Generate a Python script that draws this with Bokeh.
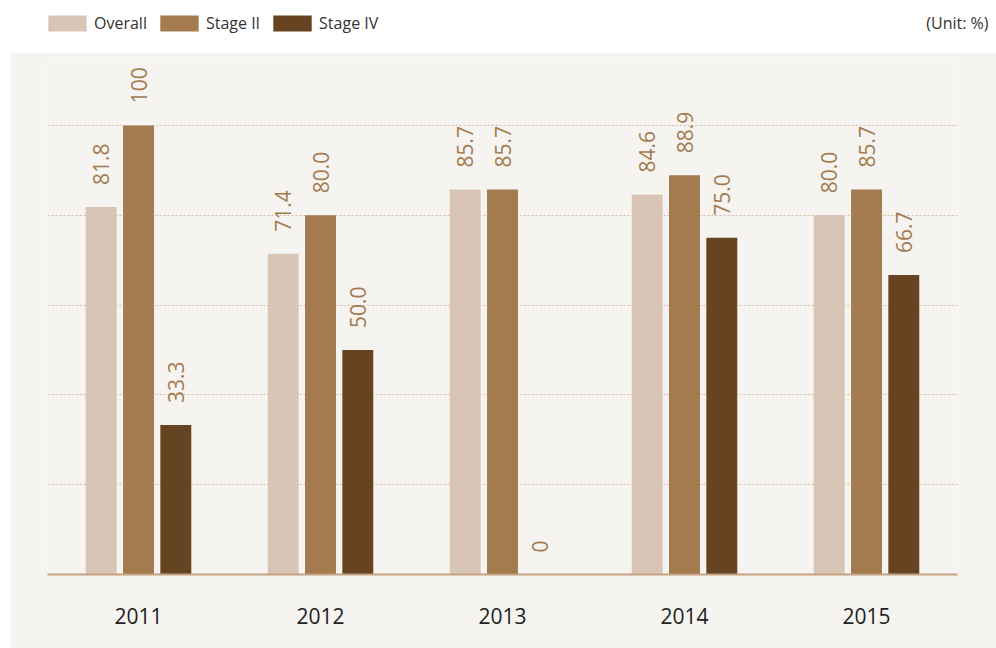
import math
from bokeh.plotting import figure
from bokeh.models import ColumnDataSource, FactorRange, Range1d, FixedTicker, Legend, LegendItem, Label, Spacer
from bokeh.transform import dodge
from bokeh.layouts import column, row
from bokeh.embed import file_html
from bokeh.resources import INLINE
from bokeh.core.properties import value

# ---- data ----
years = ["2011", "2012", "2013", "2014", "2015"]
series = ["Overall", "Stage II", "Stage IV"]
overall = [81.8, 71.4, 85.7, 84.6, 80.0]
stage2 = [100, 80.0, 85.7, 88.9, 85.7]
stage4 = [33.3, 50.0, 0, 75.0, 66.7]
grid_ticks = [20, 40, 60, 80, 100]
unit_text = "(Unit: %)"

# ---- style ----
colors = ["#d8c5b6", "#a47b4f", "#674421"]
label_color = "#a47b4f"
panel_bg = "#f6f4f0"
FONT = "Open Sans"
offsets = [-0.205, 0.0, 0.205]
bar_w = 0.17


def fmt(v):
    if v == 0 or v == 100:
        return str(int(v))
    return f"{v:.1f}"


# ---- main chart ----
p = figure(width=986, height=596,
           x_range=FactorRange(*years, range_padding=0),
           y_range=Range1d(0, 114.0),
           output_backend="svg", toolbar_location=None,
           min_border_left=37, min_border_right=39,
           min_border_top=10, min_border_bottom=74)
p.background_fill_color = panel_bg
p.border_fill_color = panel_bg
p.outline_line_color = None

p.xgrid.grid_line_color = None
p.ygrid.ticker = FixedTicker(ticks=grid_ticks)
p.ygrid.grid_line_color = "#d6bba2"
p.ygrid.grid_line_dash = "2 2"
p.ygrid.grid_line_width = 1
p.yaxis.visible = False

p.xaxis.axis_line_color = "#c4a281"
p.xaxis.axis_line_width = 2
p.xaxis.major_tick_line_color = None
p.xaxis.minor_tick_line_color = None
p.xaxis.major_label_text_font = FONT
p.xaxis.major_label_text_font_size = "21px"
p.xaxis.major_label_text_color = "#222222"
p.xaxis.major_label_standoff = 27

for vals, col, off in zip([overall, stage2, stage4], colors, offsets):
    src = ColumnDataSource(dict(year=years, v=vals, lbl=[fmt(v) for v in vals]))
    p.vbar(x=dodge("year", off, range=p.x_range), top="v", width=bar_w, bottom=0,
           source=src, fill_color=col, line_color=None)
    p.text(x=dodge("year", off, range=p.x_range), y="v", text="lbl", source=src,
           angle=math.pi / 2, text_align="left", text_baseline="middle",
           y_offset=-22, text_font=value(FONT), text_font_size="21px",
           text_color=label_color)

# ---- header (legend + unit) ----
h = figure(width=996, height=52, x_range=Range1d(0, 953), y_range=Range1d(0, 40),
           output_backend="svg", toolbar_location=None,
           min_border_left=43, min_border_right=0, min_border_top=12, min_border_bottom=0)
h.axis.visible = False
h.grid.visible = False
h.outline_line_color = None
h.background_fill_color = "white"
h.border_fill_color = "white"

rs = [h.vbar(x=[-1000], top=[-1000], bottom=[-1001], width=1, fill_color=c, line_color=None)
      for c in colors]
legend = Legend(items=[LegendItem(label=s, renderers=[r]) for s, r in zip(series, rs)],
                orientation="horizontal", location="top_left",
                glyph_width=48, glyph_height=20, label_standoff=3, spacing=8,
                padding=0, margin=0, border_line_color=None, background_fill_alpha=0,
                label_text_font=FONT, label_text_font_size="16px",
                label_text_color="#333333", label_height=20)
h.add_layout(legend)
h.add_layout(Label(x=945, y=30, text=unit_text, text_align="right", text_baseline="middle",
                   text_font=FONT, text_font_size="16px", text_color="#333333"))

layout = column(h, row(Spacer(width=10, height=596), p, spacing=0), spacing=0)
open("out.html", "w").write(file_html(layout, INLINE))
